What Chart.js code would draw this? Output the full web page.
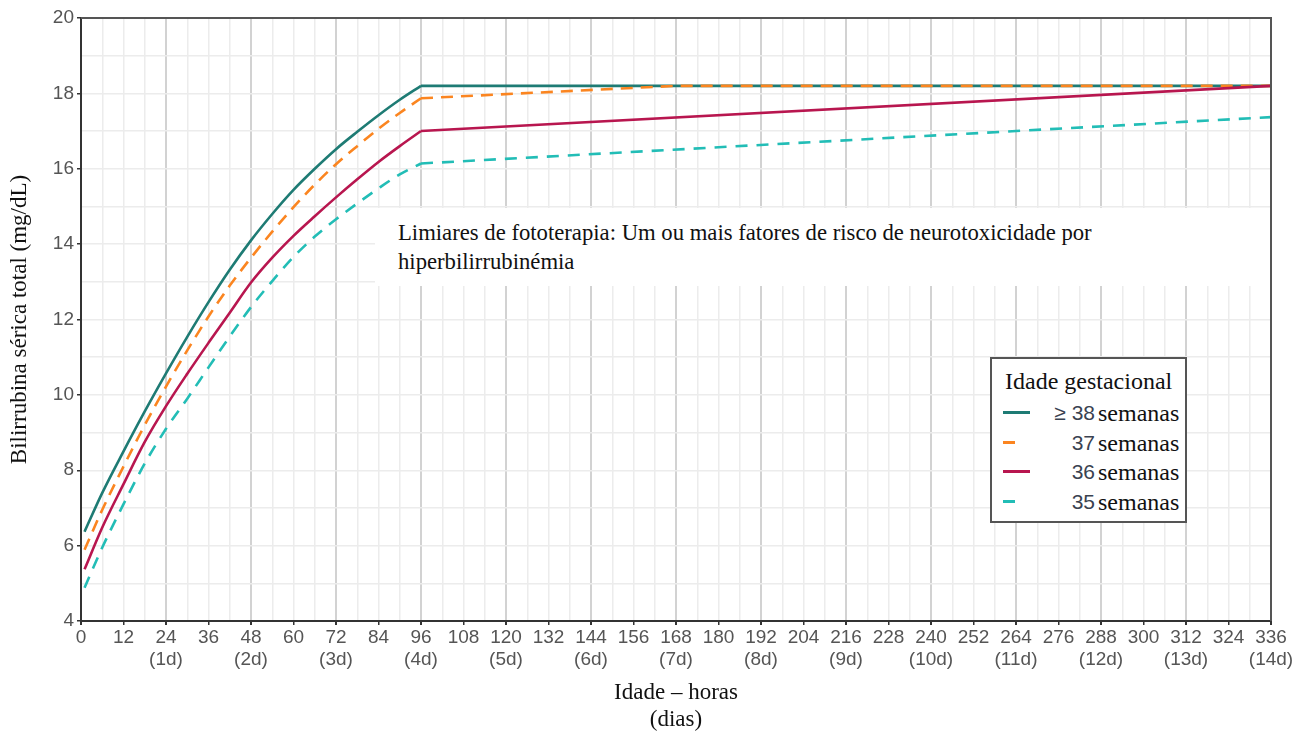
<!DOCTYPE html>
<html>
<head>
<meta charset="utf-8">
<script src="https://cdn.jsdelivr.net/npm/chart.js@4.4.1/dist/chart.umd.min.js"></script>
<style>
  body { margin: 0; background: #fff; }
  #wrap { position: relative; width: 1306px; height: 735px; }
  #note {
    position: absolute; left: 375px; top: 208px; width: 895px; height: 78px;
    background: #fff; padding: 10px 0 0 23px; box-sizing: border-box;
    font-family: 'Liberation Serif', serif; font-size: 22.7px; line-height: 29px; color: #111;
  }
  #legend {
    position: absolute; left: 990px; top: 357px; width: 197px; height: 166px;
    border: 2px solid #555; background: #fff; box-sizing: border-box;
  }
  #legend .title {
    position: absolute; left: 13px; top: 8px; line-height: 28px;
    font-family: 'Liberation Serif', serif; font-size: 24px; color: #111;
  }
  #legend .row { position: absolute; left: 0; width: 195px; height: 28px; }
  #legend .swatch { position: absolute; left: 11px; top: 12px; width: 27px; height: 0; }
  #legend .num {
    position: absolute; right: 92px; top: 0; line-height: 28px;
    font-family: 'Liberation Sans', sans-serif; font-size: 21px; color: #3a4250;
  }
  #legend .sem {
    position: absolute; left: 106px; top: 0; line-height: 28px;
    font-family: 'Liberation Serif', serif; font-size: 24px; color: #111;
  }
</style>
</head>
<body>
<div id="wrap">
  <canvas id="chart" width="1306" height="735"></canvas>
  <div id="note">Limiares de fototerapia: Um ou mais fatores de risco de neurotoxicidade por<br>hiperbilirrubinémia</div>
  <div id="legend"><div class="title">Idade gestacional</div></div>
</div>
<script>
// horas de vida (eixo x)
const riseHours = [1, 6, 12, 18, 24, 30, 36, 42, 48, 54, 60, 66, 72, 78, 84, 90, 96];

// limiares (mg/dL)
const ge38Values = [6.37, 7.4, 8.5, 9.56, 10.57, 11.54, 12.46, 13.32, 14.1, 14.8, 15.44, 16.0, 16.52, 16.98, 17.42, 17.83, 18.2];
const w37Values  = [5.89, 6.95, 8.1, 9.2, 10.22, 11.18, 12.08, 12.9, 13.64, 14.33, 14.98, 15.58, 16.12, 16.6, 17.06, 17.48, 17.87];
const w36Values  = [5.37, 6.48, 7.63, 8.75, 9.7, 10.56, 11.38, 12.18, 12.98, 13.64, 14.22, 14.74, 15.24, 15.72, 16.18, 16.6, 17.0];
const w35Values  = [4.88, 5.95, 7.1, 8.18, 9.1, 9.9, 10.73, 11.55, 12.33, 13.02, 13.66, 14.2, 14.66, 15.08, 15.48, 15.85, 16.14];

// depois das 96 h (troços rectos)
const ge38TailHours = [96, 336];
const ge38Tail = [18.2, 18.2];
const w37TailHours = [96, 168, 336];
const w37Tail = [17.87, 18.2, 18.2];
const w36TailHours = [96, 336];
const w36Tail = [17.0, 18.2];
const w35TailHours = [96, 336];
const w35Tail = [16.14, 17.37];

const seriesNames = ['≥ 38', '37', '36', '35'];
const seriesColors = ['#1e7b74', '#fb8520', '#b8164f', '#22bdb6'];
const seriesDashes = [[], [12, 8], [], [12, 9]];

const riseValues = [ge38Values, w37Values, w36Values, w35Values];
const tailHours = [ge38TailHours, w37TailHours, w36TailHours, w35TailHours];
const tailValues = [ge38Tail, w37Tail, w36Tail, w35Tail];

const toPoints = (hours, values) => hours.map((h, i) => ({ x: h, y: values[i] }));

const datasets = [];
seriesNames.forEach((name, i) => {
  const base = {
    label: name + ' semanas',
    borderColor: seriesColors[i],
    borderWidth: 2.6,
    borderDash: seriesDashes[i],
    pointRadius: 0,
    fill: false,
    order: 4 - i
  };
  datasets.push(Object.assign({}, base, {
    data: toPoints(riseHours, riseValues[i]),
    cubicInterpolationMode: 'monotone'
  }));
  datasets.push(Object.assign({}, base, {
    data: toPoints(tailHours[i], tailValues[i]),
    tension: 0
  }));
});

// moldura em cima e à direita
const frame = {
  id: 'frame',
  afterDraw(chart) {
    const { ctx, chartArea: a } = chart;
    ctx.save();
    ctx.strokeStyle = '#555';
    ctx.lineWidth = 2;
    ctx.beginPath();
    ctx.moveTo(a.left, a.top);
    ctx.lineTo(a.right, a.top);
    ctx.lineTo(a.right, a.bottom);
    ctx.stroke();
    ctx.restore();
  }
};

new Chart(document.getElementById('chart'), {
  type: 'line',
  data: { datasets },
  options: {
    responsive: false,
    animation: false,
    layout: { padding: { top: 18, right: 35, left: 0, bottom: 0 } },
    plugins: { legend: { display: false }, tooltip: { enabled: false } },
    scales: {
      x: {
        type: 'linear',
        min: 0,
        max: 336,
        afterFit: (scale) => { scale.height = 114; },
        ticks: {
          stepSize: 6,
          autoSkip: false,
          maxRotation: 0,
          padding: 1,
          color: '#555',
          font: { family: 'Liberation Sans', size: 19, lineHeight: 1.2 },
          callback: (v) => {
            if (v % 24 === 0 && v > 0) return [String(v), '(' + (v / 24) + 'd)'];
            if (v % 12 === 0) return String(v);
            return '';
          }
        },
        grid: {
          color: (c) => (c.tick && c.tick.value % 24 === 0 ? '#d2d2d2' : '#ececec'),
          lineWidth: (c) => (c.tick && c.tick.value % 24 === 0 ? 2 : 1.5),
          tickLength: 4,
          tickColor: (c) => (c.tick && c.tick.value % 12 === 0 ? '#333' : 'rgba(0,0,0,0)')
        },
        border: { display: true, color: '#333', width: 2 },
        title: {
          display: true,
          text: ['Idade – horas', '(dias)'],
          color: '#111',
          font: { family: 'Liberation Serif', size: 23, lineHeight: 27 / 23 },
          padding: { top: 0, bottom: 1.5 }
        }
      },
      y: {
        min: 4,
        max: 20,
        afterFit: (scale) => { scale.width = 81; },
        ticks: {
          stepSize: 1,
          padding: 3,
          color: '#555',
          font: { family: 'Liberation Sans', size: 19 },
          callback: (v) => (v % 2 === 0 ? String(v) : '')
        },
        grid: {
          color: '#ececec',
          lineWidth: 1.5,
          tickLength: 4,
          tickColor: (c) => (c.tick && c.tick.value % 2 === 0 ? '#333' : 'rgba(0,0,0,0)')
        },
        border: { display: true, color: '#333', width: 2 },
        title: {
          display: true,
          text: 'Bilirrubina sérica total (mg/dL)',
          color: '#111',
          font: { family: 'Liberation Serif', size: 23 },
          padding: { top: 6, bottom: 0 }
        }
      }
    }
  },
  plugins: [frame]
});

// legenda
const legend = document.getElementById('legend');
const rowTops = [40, 70, 99, 129];
seriesNames.forEach((name, i) => {
  const row = document.createElement('div');
  row.className = 'row';
  row.style.top = rowTops[i] + 'px';
  const sw = document.createElement('div');
  sw.className = 'swatch';
  if (seriesDashes[i].length) {
    sw.style.borderTop = '3px dashed ' + seriesColors[i];
    sw.style.width = '12px';
  } else {
    sw.style.borderTop = '3px solid ' + seriesColors[i];
  }
  const num = document.createElement('span');
  num.className = 'num';
  num.textContent = name;
  const sem = document.createElement('span');
  sem.className = 'sem';
  sem.textContent = 'semanas';
  row.appendChild(sw);
  row.appendChild(num);
  row.appendChild(sem);
  legend.appendChild(row);
});
</script>
</body>
</html>
